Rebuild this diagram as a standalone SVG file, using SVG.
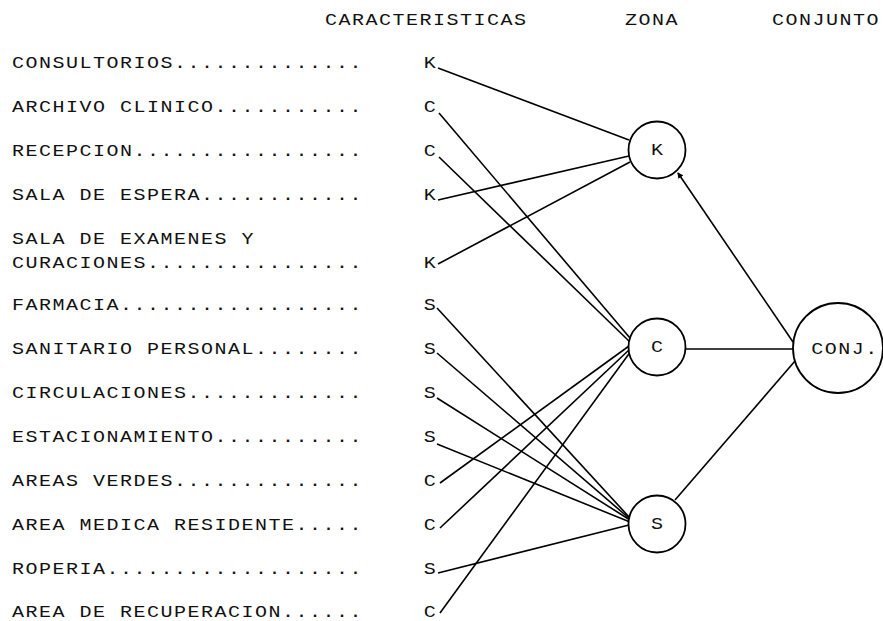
<svg xmlns="http://www.w3.org/2000/svg" width="883" height="621" viewBox="0 0 883 621">
<style>
text { font-family: "Liberation Mono", "DejaVu Sans Mono", monospace; font-size: 16px; fill: #111; letter-spacing: 1.2px; }
.ln { stroke: #000; stroke-width: 1.6; fill: none; }
.nd { stroke: #000; stroke-width: 1.8; fill: #fff; }
</style>
<defs>
<marker id="tip" markerWidth="6" markerHeight="6" refX="5" refY="3" orient="auto" markerUnits="userSpaceOnUse">
<path d="M0,0 L6,3 L0,6 Z" fill="#000"/>
</marker>
</defs>
<rect width="883" height="621" fill="#fff"/>
<g id="headers" transform="scale(1.25,1)">
<text x="260" y="25">CARACTERISTICAS</text>
<text x="500" y="25">ZONA</text>
<text x="617.6" y="25">CONJUNTO</text>
</g>
<g id="labels" transform="scale(1.25,1)">
<text x="9.6" y="68">CONSULTORIOS..............</text>
<text x="9.6" y="112">ARCHIVO CLINICO...........</text>
<text x="9.6" y="156">RECEPCION.................</text>
<text x="9.6" y="200">SALA DE ESPERA............</text>
<text x="9.6" y="244">SALA DE EXAMENES Y</text>
<text x="9.6" y="268">CURACIONES................</text>
<text x="9.6" y="310">FARMACIA..................</text>
<text x="9.6" y="354">SANITARIO PERSONAL........</text>
<text x="9.6" y="398">CIRCULACIONES.............</text>
<text x="9.6" y="442">ESTACIONAMIENTO...........</text>
<text x="9.6" y="486">AREAS VERDES..............</text>
<text x="9.6" y="530">AREA MEDICA RESIDENTE.....</text>
<text x="9.6" y="574">ROPERIA...................</text>
<text x="9.6" y="617">AREA DE RECUPERACION......</text>
</g>
<g id="codes" transform="scale(1.25,1)">
<text x="339" y="68">K</text>
<text x="339" y="112">C</text>
<text x="339" y="156">C</text>
<text x="339" y="200">K</text>
<text x="339" y="268">K</text>
<text x="339" y="310">S</text>
<text x="339" y="354">S</text>
<text x="339" y="398">S</text>
<text x="339" y="442">S</text>
<text x="339" y="486">C</text>
<text x="339" y="530">C</text>
<text x="339" y="574">S</text>
<text x="339" y="617">C</text>
</g>
<g id="connectors">
<line class="ln" x1="438" y1="68" x2="629" y2="140"/>
<line class="ln" x1="438" y1="200" x2="629" y2="156"/>
<line class="ln" x1="438" y1="264" x2="630" y2="162"/>
<line class="ln" x1="439" y1="113" x2="630" y2="338"/>
<line class="ln" x1="439" y1="157" x2="630" y2="342"/>
<line class="ln" x1="440" y1="483" x2="629" y2="346"/>
<line class="ln" x1="440" y1="528" x2="630" y2="349"/>
<line class="ln" x1="440" y1="613" x2="631" y2="351"/>
<line class="ln" x1="437" y1="308" x2="630" y2="518"/>
<line class="ln" x1="437" y1="353" x2="630" y2="519"/>
<line class="ln" x1="437" y1="398" x2="630" y2="520"/>
<line class="ln" x1="437" y1="444" x2="630" y2="522"/>
<line class="ln" x1="438" y1="573" x2="629" y2="525"/>
<line class="ln" x1="686" y1="349" x2="793" y2="349"/>
<line class="ln" x1="675" y1="500" x2="795" y2="361"/>
<line class="ln" x1="793" y1="342" x2="678" y2="173" marker-end="url(#tip)"/>
</g>
<g id="node-K">
<circle class="nd" cx="657" cy="150" r="28.5"/>
<text transform="scale(1.25,1)" x="520.8" y="155">K</text>
</g>
<g id="node-C">
<circle class="nd" cx="657" cy="347" r="28.5"/>
<text transform="scale(1.25,1)" x="520.8" y="352">C</text>
</g>
<g id="node-S">
<circle class="nd" cx="657" cy="524" r="28.5"/>
<text transform="scale(1.25,1)" x="520.8" y="529">S</text>
</g>
<g id="node-CONJ">
<circle class="nd" cx="838" cy="348" r="45"/>
<text transform="scale(1.25,1)" x="649" y="354">CONJ.</text>
</g>
</svg>
